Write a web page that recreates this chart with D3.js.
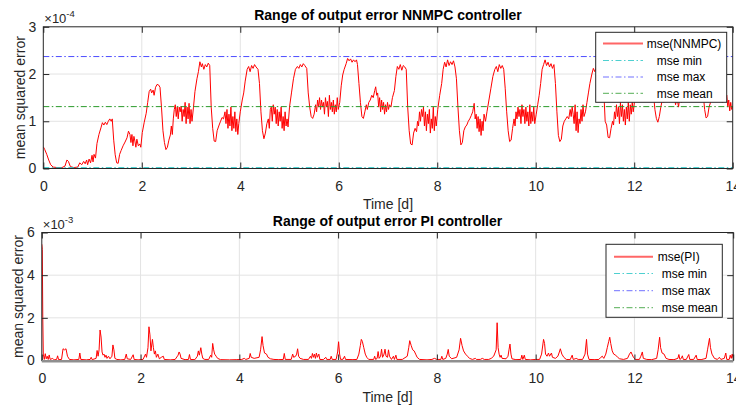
<!DOCTYPE html>
<html>
<head>
<meta charset="utf-8">
<script src="https://cdn.jsdelivr.net/npm/d3@7"></script>
<style>
body { margin: 0; background: #fff; }
svg { display: block; font-family: "Liberation Sans", Arial, Helvetica, sans-serif; }
</style>
</head>
<body>
<div id="viz"></div>
<script>
// ticks
const xTicks = [0, 2, 4, 6, 8, 10, 12, 14];
const nnTicks = [0, 1, 2, 3];
const piTicks = [0, 2, 4, 6];

// NNMPC mse, [day, value x1e-4]
const nnmpcMse = [
[0.00,0.46],[0.03,0.40],[0.07,0.30],[0.11,0.18],[0.15,0.08],[0.20,0.03],[0.28,0.02],[0.38,0.02],[0.44,0.05],[0.48,0.18],
[0.51,0.15],[0.55,0.04],[0.62,0.02],[0.70,0.03],[0.74,0.12],[0.78,0.08],[0.82,0.15],[0.85,0.10],[0.88,0.18],[0.90,0.08],
[0.93,0.20],[0.96,0.12],[0.99,0.28],[1.01,0.14],[1.03,0.30],[1.06,0.22],[1.09,0.53],[1.13,0.72],[1.17,0.86],[1.20,0.97],
[1.23,0.92],[1.26,0.98],[1.29,0.93],[1.32,1.00],[1.35,1.05],[1.38,1.00],[1.40,1.05],[1.43,0.60],[1.46,0.29],[1.49,0.12],
[1.52,0.11],[1.55,0.30],[1.58,0.38],[1.62,0.48],[1.66,0.56],[1.70,0.65],[1.73,0.79],[1.76,0.72],[1.78,0.55],[1.80,0.72],
[1.82,0.48],[1.84,0.68],[1.86,0.58],[1.88,0.45],[1.90,0.62],[1.93,0.48],[1.96,0.52],[1.98,0.45],[2.01,0.76],[2.05,0.98],
[2.09,1.17],[2.12,1.40],[2.15,1.63],[2.18,1.68],[2.20,1.60],[2.23,1.66],[2.25,1.55],[2.28,1.72],[2.31,1.78],[2.34,1.77],
[2.37,1.72],[2.40,1.30],[2.43,0.80],[2.46,0.55],[2.49,0.40],[2.52,0.45],[2.55,0.60],[2.58,0.71],[2.60,0.90],[2.62,0.72],
[2.64,1.05],[2.66,1.25],[2.68,1.35],[2.70,1.10],[2.72,1.30],[2.74,1.05],[2.76,1.30],[2.78,1.20],[2.80,1.32],[2.82,1.00],
[2.84,1.25],[2.86,1.10],[2.88,1.40],[2.90,0.95],[2.92,1.30],[2.94,1.05],[2.96,1.38],[2.98,0.95],[3.00,1.25],[3.02,1.00],
[3.05,1.30],[3.08,1.63],[3.12,1.90],[3.15,2.05],[3.18,2.26],[3.21,2.15],[3.23,2.22],[3.26,2.10],[3.29,2.20],[3.32,2.15],
[3.35,2.23],[3.38,2.18],[3.41,1.30],[3.44,0.85],[3.47,0.58],[3.50,0.57],[3.53,0.80],[3.57,0.92],[3.60,1.00],[3.63,1.08],
[3.66,1.05],[3.69,1.20],[3.71,0.95],[3.73,1.25],[3.75,0.85],[3.77,1.15],[3.79,0.90],[3.81,1.30],[3.83,0.80],[3.85,1.10],
[3.87,0.85],[3.89,1.20],[3.91,0.78],[3.93,1.05],[3.95,0.72],[3.97,0.95],[4.00,1.20],[4.04,1.45],[4.07,1.60],[4.10,1.85],
[4.14,2.10],[4.17,2.16],[4.20,2.05],[4.23,2.18],[4.26,2.12],[4.29,2.20],[4.32,2.15],[4.36,2.10],[4.39,1.80],[4.42,1.20],
[4.45,0.80],[4.48,0.63],[4.51,0.75],[4.54,0.95],[4.57,1.05],[4.59,0.85],[4.61,1.25],[4.63,1.30],[4.65,1.00],[4.67,1.35],
[4.69,1.15],[4.71,1.30],[4.73,0.95],[4.75,1.25],[4.77,0.90],[4.79,1.20],[4.81,1.00],[4.83,1.30],[4.85,0.85],[4.87,1.10],
[4.89,0.80],[4.91,1.20],[4.93,0.90],[4.95,1.05],[4.97,0.88],[5.00,1.30],[5.04,1.60],[5.08,1.90],[5.12,2.10],[5.16,2.16],
[5.19,2.12],[5.22,2.20],[5.25,2.15],[5.28,2.22],[5.31,2.18],[5.35,2.12],[5.38,1.60],[5.41,1.30],[5.44,1.10],[5.47,1.06],
[5.50,1.15],[5.53,1.35],[5.55,1.20],[5.57,1.45],[5.59,1.30],[5.61,1.50],[5.63,1.25],[5.65,1.45],[5.67,1.30],[5.69,1.40],
[5.71,1.15],[5.73,1.50],[5.75,1.30],[5.77,1.42],[5.79,1.10],[5.81,1.55],[5.83,1.25],[5.85,1.40],[5.87,1.20],[5.89,1.45],
[5.91,1.15],[5.93,1.35],[5.95,1.20],[5.97,1.50],[5.99,1.25],[6.02,1.40],[6.05,1.75],[6.08,1.98],[6.11,2.10],[6.15,2.22],
[6.18,2.33],[6.21,2.28],[6.24,2.32],[6.27,2.25],[6.30,2.30],[6.33,2.26],[6.36,2.30],[6.38,2.20],[6.41,1.80],[6.44,1.40],
[6.47,1.10],[6.50,1.06],[6.53,1.20],[6.56,1.35],[6.58,1.25],[6.61,1.40],[6.64,1.45],[6.67,1.55],[6.70,1.50],[6.73,1.65],
[6.75,1.73],[6.77,1.55],[6.79,1.60],[6.81,1.30],[6.83,1.50],[6.85,1.20],[6.87,1.45],[6.89,1.25],[6.91,1.40],[6.93,1.15],
[6.95,1.35],[6.97,1.20],[6.99,1.40],[7.01,1.25],[7.03,1.35],[7.06,1.30],[7.09,1.50],[7.13,1.65],[7.16,1.95],[7.19,2.16],
[7.22,2.10],[7.25,2.20],[7.28,2.08],[7.31,2.18],[7.34,2.15],[7.37,2.10],[7.40,1.30],[7.43,0.80],[7.46,0.52],[7.49,0.50],
[7.52,0.75],[7.55,0.85],[7.58,0.78],[7.60,1.00],[7.62,0.90],[7.64,1.20],[7.66,1.00],[7.68,1.25],[7.70,1.10],[7.72,1.30],
[7.74,0.90],[7.76,1.20],[7.78,0.80],[7.80,1.15],[7.82,0.95],[7.84,1.25],[7.86,0.75],[7.88,1.05],[7.90,0.85],[7.92,1.30],
[7.94,0.80],[7.96,1.10],[7.98,0.90],[8.01,1.25],[8.05,1.55],[8.09,1.80],[8.12,2.10],[8.15,2.25],[8.18,2.15],[8.21,2.30],
[8.24,2.18],[8.27,2.26],[8.30,2.20],[8.33,2.28],[8.36,2.15],[8.39,1.90],[8.42,1.30],[8.45,0.80],[8.48,0.50],[8.51,0.55],
[8.54,0.80],[8.57,0.88],[8.60,0.92],[8.63,1.00],[8.66,1.05],[8.69,1.12],[8.72,1.20],[8.75,1.38],[8.77,1.05],[8.79,1.15],
[8.81,0.85],[8.83,1.10],[8.85,0.78],[8.87,1.05],[8.89,0.70],[8.91,1.00],[8.93,0.80],[8.95,1.15],[8.98,1.00],[9.01,1.20],
[9.05,1.45],[9.09,1.70],[9.13,1.95],[9.17,2.10],[9.20,2.16],[9.23,2.05],[9.26,2.20],[9.29,2.12],[9.32,2.18],[9.35,2.10],
[9.38,1.70],[9.41,1.20],[9.44,0.80],[9.47,0.57],[9.50,0.60],[9.53,0.85],[9.56,1.05],[9.58,0.90],[9.60,1.20],[9.62,1.05],
[9.64,1.30],[9.66,1.10],[9.68,1.25],[9.70,0.95],[9.72,1.35],[9.74,1.10],[9.76,1.25],[9.78,0.95],[9.80,1.30],[9.82,1.00],
[9.84,1.20],[9.86,0.90],[9.88,1.35],[9.90,0.95],[9.92,1.20],[9.94,1.00],[9.96,1.30],[9.98,0.95],[10.01,1.15],[10.04,1.35],
[10.07,1.55],[10.10,1.80],[10.13,2.10],[10.16,2.20],[10.19,2.30],[10.22,2.18],[10.25,2.25],[10.28,2.15],[10.31,2.22],[10.34,2.12],
[10.37,2.20],[10.40,1.80],[10.43,1.20],[10.46,0.70],[10.49,0.57],[10.52,0.62],[10.55,0.90],[10.58,1.00],[10.61,1.05],[10.64,1.10],
[10.67,1.05],[10.70,1.25],[10.72,1.10],[10.74,1.30],[10.76,1.15],[10.78,0.95],[10.80,1.35],[10.82,0.80],[10.84,1.20],[10.86,0.76],
[10.88,1.05],[10.90,0.95],[10.92,1.25],[10.94,1.00],[10.96,1.35],[10.98,1.10],[11.01,1.20],[11.04,1.40],[11.07,1.60],[11.10,1.80],
[11.14,2.00],[11.17,2.12],[11.20,2.05],[11.23,2.15],[11.26,2.10],[11.29,2.20],[11.32,2.12],[11.35,2.15],[11.38,1.70],[11.41,1.00],
[11.44,0.92],[11.47,0.66],[11.50,0.65],[11.53,0.85],[11.56,1.00],[11.58,0.92],[11.60,1.20],[11.62,1.05],[11.64,1.35],[11.66,1.10],
[11.68,1.30],[11.70,0.95],[11.72,1.40],[11.74,1.10],[11.76,1.35],[11.78,1.00],[11.80,1.25],[11.82,0.92],[11.84,1.30],[11.86,1.05],
[11.88,1.40],[11.90,1.00],[11.92,1.35],[11.94,1.15],[11.96,1.40],[11.98,1.20],[12.01,1.45],[12.05,1.75],[12.09,2.00],[12.13,2.15],
[12.17,2.20],[12.21,2.15],[12.25,2.20],[12.29,2.12],[12.33,2.18],[12.36,2.05],[12.39,1.60],[12.42,1.25],[12.45,1.06],[12.48,0.98],
[12.51,1.10],[12.54,1.30],[12.57,1.45],[12.60,1.40],[12.63,1.55],[12.66,1.45],[12.69,1.60],[12.72,1.50],[12.75,1.65],[12.78,1.45],
[12.81,1.55],[12.84,1.35],[12.87,1.50],[12.90,1.30],[12.93,1.55],[12.96,1.40],[12.99,1.50],[13.02,1.45],[13.06,1.75],[13.10,2.00],
[13.14,2.15],[13.18,2.22],[13.22,2.15],[13.26,2.20],[13.30,2.10],[13.34,2.15],[13.37,2.00],[13.40,1.60],[13.43,1.25],[13.46,1.07],
[13.49,1.10],[13.52,1.30],[13.55,1.40],[13.58,1.50],[13.61,1.45],[13.64,1.60],[13.67,1.50],[13.70,1.65],[13.73,1.45],[13.76,1.55],
[13.79,1.40],[13.82,1.60],[13.85,1.45],[13.88,1.55],[13.90,1.30],[13.92,1.45],[13.94,1.22],[13.96,1.40],[13.98,1.25],[14.00,1.32]
];
const nnmpcMin = 0.017;
const nnmpcMax = 2.37;
const nnmpcMean = 1.31;

// PI mse, [day, value x1e-3]
const piMse = [
[0,5.45],[0.01,5.2],[0.02,2.0],[0.03,0.3],[0.05,0.05],[0.07,0.32],[0.09,0.08],[0.11,0.2],[0.13,0.05],[0.15,0.26],
[0.17,0.05],[0.22,0.1],[0.25,0.03],[0.30,0.05],[0.32,0.22],[0.34,0.04],[0.40,0.05],[0.43,0.55],[0.46,0.5],[0.49,0.55],
[0.52,0.2],[0.56,0.05],[0.65,0.03],[0.75,0.05],[0.77,0.35],[0.79,0.05],[0.90,0.03],[0.98,0.05],[1.00,0.15],[1.02,0.04],
[1.10,0.1],[1.12,0.47],[1.14,0.2],[1.16,0.5],[1.18,1.43],[1.20,1.1],[1.22,0.4],[1.24,0.25],[1.26,0.3],[1.28,0.15],
[1.30,0.25],[1.32,0.1],[1.35,0.2],[1.38,0.08],[1.42,0.2],[1.44,0.73],[1.46,0.5],[1.48,0.1],[1.52,0.05],[1.60,0.03],
[1.68,0.05],[1.71,0.3],[1.73,0.08],[1.80,0.05],[1.85,0.27],[1.87,0.05],[1.95,0.03],[2.05,0.05],[2.10,0.3],[2.12,0.15],
[2.15,0.6],[2.17,1.58],[2.19,1.2],[2.21,0.45],[2.24,0.99],[2.26,0.6],[2.28,0.3],[2.30,0.45],[2.32,0.15],[2.35,0.3],
[2.38,0.08],[2.42,0.15],[2.46,0.2],[2.48,0.05],[2.60,0.03],[2.70,0.05],[2.76,0.25],[2.78,0.4],[2.80,0.3],[2.82,0.1],
[2.90,0.04],[2.97,0.05],[2.99,0.28],[3.01,0.05],[3.10,0.04],[3.15,0.2],[3.17,0.45],[3.19,0.25],[3.22,0.6],[3.24,0.3],
[3.26,0.1],[3.30,0.05],[3.38,0.05],[3.42,0.25],[3.44,0.15],[3.46,0.8],[3.48,0.5],[3.50,0.3],[3.53,0.2],[3.56,0.1],
[3.62,0.04],[3.80,0.03],[3.95,0.04],[4.05,0.05],[4.10,0.1],[4.13,0.05],[4.20,0.1],[4.22,0.33],[4.24,0.15],[4.30,0.1],
[4.40,0.15],[4.43,0.5],[4.46,1.12],[4.48,0.7],[4.51,0.35],[4.55,0.3],[4.58,0.15],[4.63,0.08],[4.70,0.05],[4.80,0.04],
[4.89,0.05],[4.91,0.33],[4.93,0.05],[5.05,0.05],[5.08,0.3],[5.10,0.15],[5.14,0.2],[5.16,0.3],[5.18,0.55],[5.20,0.2],
[5.23,0.1],[5.30,0.05],[5.40,0.05],[5.44,0.2],[5.46,0.1],[5.48,0.33],[5.50,0.15],[5.52,0.3],[5.54,0.1],[5.56,0.35],
[5.58,0.15],[5.61,0.3],[5.63,0.05],[5.70,0.04],[5.75,0.15],[5.77,0.05],[5.84,0.05],[5.86,0.2],[5.88,0.05],[5.96,0.05],
[5.99,0.4],[6.01,0.88],[6.03,0.3],[6.05,0.05],[6.10,0.06],[6.13,0.2],[6.15,0.05],[6.30,0.04],[6.38,0.05],[6.42,0.3],
[6.45,0.7],[6.47,0.99],[6.49,0.9],[6.52,0.6],[6.55,0.3],[6.58,0.15],[6.62,0.05],[6.72,0.05],[6.74,0.2],[6.76,0.05],
[6.79,0.1],[6.81,0.42],[6.83,0.1],[6.86,0.2],[6.88,0.53],[6.90,0.15],[6.93,0.3],[6.95,0.53],[6.97,0.2],[7.00,0.15],
[7.02,0.5],[7.04,0.2],[7.08,0.05],[7.12,0.2],[7.14,0.05],[7.17,0.25],[7.19,0.05],[7.30,0.05],[7.40,0.2],[7.43,0.6],
[7.45,0.93],[7.48,0.7],[7.51,0.5],[7.54,0.45],[7.57,0.3],[7.60,0.15],[7.65,0.05],[7.80,0.03],[7.90,0.05],[7.95,0.1],
[8.00,0.05],[8.08,0.05],[8.10,0.2],[8.12,0.05],[8.18,0.1],[8.21,0.3],[8.23,0.52],[8.25,0.2],[8.30,0.08],[8.40,0.15],
[8.45,0.5],[8.48,1.04],[8.51,0.7],[8.54,0.45],[8.58,0.3],[8.62,0.2],[8.66,0.1],[8.72,0.05],[8.78,0.1],[8.80,0.05],
[8.88,0.05],[8.92,0.1],[8.96,0.05],[9.05,0.05],[9.10,0.1],[9.15,0.2],[9.20,0.5],[9.22,1.77],[9.24,0.6],[9.26,0.3],
[9.28,0.15],[9.30,0.25],[9.32,0.1],[9.40,0.08],[9.44,0.2],[9.46,0.5],[9.48,0.77],[9.50,0.3],[9.52,0.08],[9.60,0.04],
[9.70,0.05],[9.72,0.25],[9.74,0.05],[9.77,0.25],[9.79,0.05],[9.90,0.03],[10.00,0.05],[10.08,0.05],[10.12,0.3],[10.16,0.99],
[10.18,0.8],[10.20,0.3],[10.23,0.2],[10.26,0.35],[10.28,0.2],[10.32,0.35],[10.34,0.15],[10.40,0.1],[10.45,0.2],[10.48,0.4],
[10.50,0.55],[10.53,0.3],[10.57,0.15],[10.62,0.05],[10.70,0.04],[10.74,0.25],[10.76,0.05],[10.80,0.08],[10.82,0.1],[10.86,0.05],
[10.95,0.05],[11.00,0.3],[11.03,0.99],[11.05,0.3],[11.08,0.05],[11.20,0.04],[11.28,0.05],[11.32,0.15],[11.35,0.2],[11.38,0.1],
[11.42,0.3],[11.45,0.6],[11.48,0.9],[11.50,1.09],[11.52,0.8],[11.55,0.45],[11.58,0.3],[11.62,0.25],[11.66,0.15],[11.70,0.08],
[11.78,0.05],[11.86,0.1],[11.90,0.3],[11.93,0.4],[11.95,0.3],[11.98,0.15],[12.02,0.05],[12.10,0.05],[12.13,0.2],[12.16,0.4],
[12.18,0.1],[12.25,0.05],[12.35,0.04],[12.45,0.1],[12.48,0.5],[12.51,1.09],[12.53,0.6],[12.56,0.35],[12.60,0.3],[12.64,0.1],
[12.70,0.05],[12.80,0.04],[12.88,0.1],[12.90,0.28],[12.92,0.05],[12.95,0.1],[12.97,0.22],[12.99,0.05],[13.05,0.05],[13.10,0.28],
[13.12,0.05],[13.20,0.05],[13.25,0.25],[13.27,0.05],[13.35,0.04],[13.45,0.1],[13.48,0.5],[13.52,1.04],[13.54,0.6],[13.57,0.3],
[13.62,0.1],[13.68,0.05],[13.72,0.15],[13.75,0.05],[13.82,0.1],[13.85,0.35],[13.87,0.05],[13.92,0.05],[13.94,0.25],[13.96,0.1],
[13.98,0.3],[14.00,0.1]
];

const nnLegend = ["mse(NNMPC)", "mse min", "mse max", "mse mean"];
const piLegend = ["mse(PI)", "mse min", "mse max", "mse mean"];

width = 736;
height = 405;
axisCol = "#262626";
gridCol = "#e3e3e3";
refCols = ["#22c4c4", "#4d4dff", "#2a9a2a"];
dashDot = "6,2.5,1.5,2.5";

svg = d3.select("#viz").append("svg")
	.attr("width", width)
	.attr("height", height);

function panel(o) {
	var x = d3.scaleLinear().domain([0, 14]).range([o.left, o.right]);
	var y = d3.scaleLinear().domain([0, o.yMax]).range([o.bottom, o.top]);
	var g = svg.append("g");

	// grid
	g.selectAll(".gx").data(xTicks.slice(1, -1)).enter().append("line")
	.attr("x1", d => x(d)).attr("x2", d => x(d))
	.attr("y1", o.top).attr("y2", o.bottom)
	.attr("stroke", gridCol);
	g.selectAll(".gy").data(o.yTicks.slice(1, -1)).enter().append("line")
	.attr("x1", o.left).attr("x2", o.right)
	.attr("y1", d => y(d)).attr("y2", d => y(d))
	.attr("stroke", gridCol);

	svg.append("clipPath").attr("id", o.id)
	.append("rect")
	.attr("x", o.left).attr("y", o.top)
	.attr("width", o.right - o.left).attr("height", o.bottom - o.top);

	var line = d3.line()
	.x(d => x(d[0]))
	.y(d => y(d[1]));

	g.append("path").datum(o.data)
	.attr("d", line)
	.attr("fill", "none")
	.attr("stroke", "#ff0000")
	.attr("stroke-width", 1)
	.attr("stroke-linejoin", "round")
	.attr("clip-path", "url(#" + o.id + ")");

	// min / max / mean lines
	g.selectAll(".ref").data(o.refs).enter().append("line")
	.attr("x1", o.left).attr("x2", o.right)
	.attr("y1", d => y(d)).attr("y2", d => y(d))
	.attr("stroke", (d, i) => refCols[i])
	.attr("stroke-width", 1)
	.attr("stroke-dasharray", dashDot);

	// axes, ticks pointing inward
	var ax = [
		[d3.axisBottom(x).tickValues(xTicks).tickSizeInner(-6).tickSizeOuter(0).tickPadding(13), o.bottom, 0],
		[d3.axisTop(x).tickValues(xTicks).tickSizeInner(-6).tickSizeOuter(0).tickFormat(""), o.top, 0],
		[d3.axisLeft(y).tickValues(o.yTicks).tickSizeInner(-6).tickSizeOuter(0).tickPadding(7).tickFormat(d3.format("d")), 0, o.left],
		[d3.axisRight(y).tickValues(o.yTicks).tickSizeInner(-6).tickSizeOuter(0).tickFormat(""), 0, o.right]
	];
	ax.forEach(function(a) {
		var ag = g.append("g")
		.attr("transform", "translate(" + a[2] + "," + a[1] + ")")
		.call(a[0]);
		ag.select(".domain").remove();
		ag.selectAll("line").attr("stroke", axisCol);
		ag.selectAll("text")
		.attr("fill", axisCol)
		.style("font-size", "14px")
		.style("font-family", "Liberation Sans, Arial, sans-serif");
	});

	g.append("rect")
	.attr("x", o.left).attr("y", o.top)
	.attr("width", o.right - o.left).attr("height", o.bottom - o.top)
	.attr("fill", "none")
	.attr("stroke", axisCol)
	.attr("stroke-width", 1);

	if (o.band) {
		g.append("line")
		.attr("x1", o.left).attr("x2", o.right)
		.attr("y1", o.bottom + 0.8).attr("y2", o.bottom + 0.8)
		.attr("stroke", "#8f8f8f")
		.attr("stroke-width", 2.6);
	}

	// exponent
	var ex = g.append("text")
	.attr("x", o.left + 1)
	.attr("y", o.top - 3.7)
	.attr("fill", axisCol)
	.style("font-size", "13px");
	ex.append("tspan").text("\u00d710");
	ex.append("tspan").attr("dy", -6).style("font-size", "9.5px").text(o.exp);

	// title
	g.append("text")
	.attr("x", (o.left + o.right) / 2)
	.attr("y", o.top - 7)
	.attr("text-anchor", "middle")
	.attr("fill", "#000")
	.style("font-size", "14px")
	.style("font-weight", "bold")
	.text(o.title);

	g.append("text")
	.attr("transform", "rotate(-90)")
	.attr("x", -(o.top + o.bottom) / 2)
	.attr("y", o.ylabX)
	.attr("text-anchor", "middle")
	.attr("fill", axisCol)
	.style("font-size", "14px")
	.text("mean squared error");

	g.append("text")
	.attr("x", (o.left + o.right) / 2)
	.attr("y", o.xlabY)
	.attr("text-anchor", "middle")
	.attr("fill", axisCol)
	.style("font-size", "14px")
	.text("Time [d]");

	// legend
	var L = o.leg;
	var lg = g.append("g");
	lg.append("rect")
	.attr("x", L.x).attr("y", L.y)
	.attr("width", L.w).attr("height", L.h)
	.attr("fill", "#fff")
	.attr("stroke", axisCol)
	.attr("stroke-width", 1);
	var cols = ["#ff0000"].concat(refCols);
	L.names.forEach(function(n, i) {
		var ry = L.rows[i];
		lg.append("line")
		.attr("x1", L.lx).attr("x2", L.lx + L.lw)
		.attr("y1", ry).attr("y2", ry)
		.attr("stroke", cols[i])
		.attr("stroke-opacity", i == 0 ? 0.6 : 0.8)
		.attr("stroke-width", i == 0 ? 2 : 1)
		.attr("stroke-dasharray", i == 0 ? null : dashDot);
		lg.append("text")
		.attr("x", i == 0 ? L.tx : L.tx2)
		.attr("y", ry + 4.3)
		.attr("fill", "#000")
		.style("font-size", "12px")
		.text(n);
	});
}

panel({
	id: "clipTop", left: 43.3, right: 732.7, top: 26.8, bottom: 168.5,
	yMax: 3, yTicks: nnTicks, exp: "-4",
	title: "Range of output error NNMPC controller",
	data: nnmpcMse, refs: [nnmpcMin, nnmpcMax, nnmpcMean],
	ylabX: 24.5, xlabY: 208.5, band: false,
	leg: { x: 595.7, y: 32.3, w: 131, h: 70, rows: [43.5, 60.5, 77, 93.3],
		lx: 603, lw: 40, tx: 646.7, tx2: 656.7, names: nnLegend }
});

panel({
	id: "clipBot", left: 41.8, right: 733.2, top: 232.5, bottom: 360.5,
	yMax: 6, yTicks: piTicks, exp: "-3",
	title: "Range of output error PI controller",
	data: piMse, refs: [],
	ylabX: 23, xlabY: 401.5, band: true,
	leg: { x: 606, y: 244.3, w: 116.3, h: 73, rows: [256.7, 273.5, 290.7, 307.7],
		lx: 614, lw: 39, tx: 657.7, tx2: 661.7, names: piLegend }
});
</script>
</body>
</html>
